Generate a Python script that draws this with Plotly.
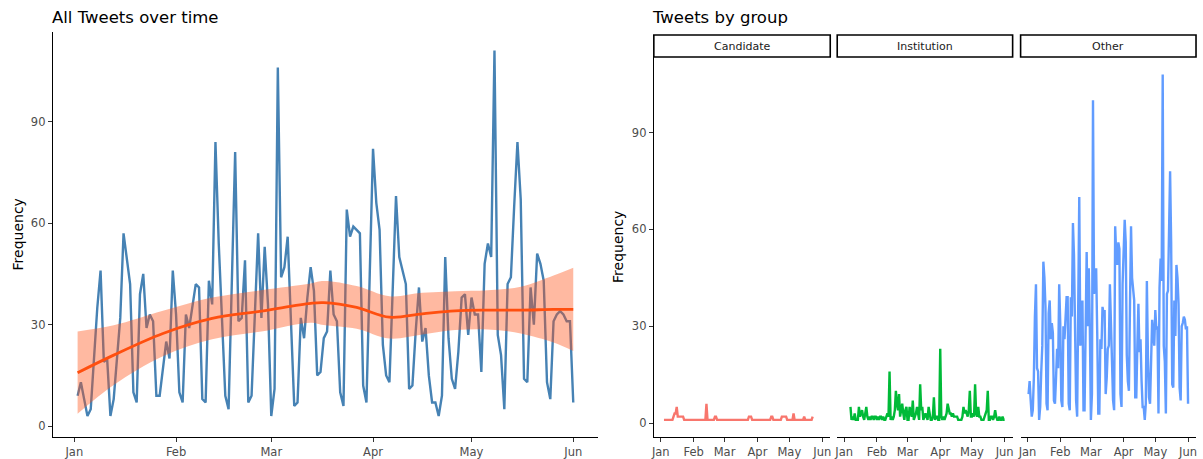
import pandas as pd
import plotly.graph_objects as go

# ---------------- data ----------------
total_start = "2020-01-02"
total_counts = [
    9, 13, 8, 3, 5, 20, 35, 46, 19, 20,
    3, 8, 20, 32, 57, 50, 42, 10, 7, 39,
    45, 29, 33, 31, 9, 9, 17, 25, 20, 46,
    33, 10, 7, 33, 29, 35, 42, 41, 8, 7,
    43, 36, 84, 54, 30, 9, 5, 42, 81, 31,
    32, 49, 7, 9, 33, 57, 32, 53, 36, 3,
    11, 106, 44, 47, 56, 30, 6, 7, 32, 26,
    38, 47, 40, 15, 16, 26, 28, 46, 33, 31,
    10, 6, 64, 56, 59, 58, 57, 12, 7, 45,
    82, 66, 58, 24, 15, 13, 40, 68, 50, 46,
    42, 11, 12, 28, 41, 25, 29, 15, 7, 7,
    3, 9, 50, 26, 14, 11, 22, 38, 39, 27,
    38, 33, 33, 16, 48, 54, 50, 111, 27, 21,
    5, 42, 44, 65, 84, 67, 14, 13, 41, 30,
    51, 48, 43, 13, 8, 31, 33, 34, 33, 31,
    31, 7,
]

# smoothed trend, days after 2020-01-01
smooth_day = [1, 12, 27, 42, 57, 72, 76, 86, 96, 106, 116, 126, 136, 146, 152]
smooth_fit = [15.8, 21.0, 27.4, 31.85, 34.0, 36.3, 36.5, 35.1, 32.2, 33.2, 34.1, 34.3, 34.3, 34.5, 34.5]
smooth_lo = [3.7, 12.2, 20.7, 25.7, 28.0, 30.6, 29.9, 28.8, 25.9, 27.1, 28.4, 28.6, 27.4, 24.7, 22.2]
smooth_hi = [28.0, 29.8, 34.1, 38.0, 40.2, 42.2, 42.9, 41.4, 38.4, 39.4, 39.9, 40.2, 41.2, 44.5, 46.8]

candidate_start = "2020-01-04"
candidate_counts = [
    1, 1, 1, 1, 1, 1, 1, 1, 1, 2,
    3, 3, 5, 2, 2, 2, 2, 2, 2, 1,
    1, 1, 1, 1, 1, 1, 1, 1, 1, 1,
    1, 1, 1, 1, 1, 1, 1, 1, 1, 1,
    6, 1, 1, 1, 1, 1, 1, 1, 2, 2,
    1, 1, 1, 1, 1, 1, 1, 1, 1, 1,
    1, 1, 1, 1, 1, 1, 1, 1, 1, 1,
    1, 1, 1, 1, 1, 1, 1, 1, 1, 1,
    2, 2, 2, 1, 1, 1, 1, 1, 1, 1,
    1, 1, 1, 1, 1, 1, 1, 1, 1, 1,
    1, 2, 2, 1, 1, 1, 1, 1, 1, 1,
    1, 2, 2, 2, 2, 2, 1, 1, 1, 1,
    1, 1, 3, 1, 1, 1, 1, 1, 1, 1,
    1, 1, 2, 1, 1, 1, 1, 1, 1, 1,
    2,
]

institution_start = "2020-01-07"
institution_counts = [
    5, 1, 2, 1, 3, 1, 1, 1, 5, 2,
    3, 4, 2, 1, 3, 5, 2, 1, 2, 1,
    2, 2, 1, 2, 2, 1, 2, 1, 2, 2,
    1, 2, 1, 1, 2, 3, 2, 16, 1, 2,
    1, 2, 4, 10, 6, 4, 9, 2, 4, 6,
    3, 1, 4, 5, 1, 1, 5, 3, 2, 7,
    1, 2, 3, 5, 2, 1, 12, 4, 5, 1,
    2, 3, 2, 1, 5, 2, 1, 1, 2, 8,
    1, 2, 2, 1, 1, 23, 2, 1, 2, 1,
    2, 3, 6, 4, 3, 3, 2, 3, 2, 2,
    2, 2, 1, 1, 1, 1, 2, 5, 3, 4,
    3, 2, 4, 10, 2, 2, 3, 2, 12, 3,
    2, 5, 2, 2, 1, 1, 1, 2, 3, 4,
    10, 1, 1, 2, 2, 1, 2, 4, 2, 1,
    1, 2, 1, 1, 2, 1, 1,
]

other_start = "2020-01-02"
other_counts = [
    9, 13, 7, 2, 4, 14, 33, 43, 17, 16,
    1, 5, 16, 24, 50, 45, 36, 6, 4, 34,
    38, 26, 31, 28, 7, 6, 14, 23, 17, 43,
    31, 7, 5, 30, 26, 33, 39, 39, 6, 4,
    39, 33, 62, 52, 27, 7, 2, 37, 70, 24,
    26, 38, 4, 4, 26, 53, 30, 48, 30, 1,
    9, 100, 40, 44, 48, 28, 3, 3, 26, 23,
    36, 34, 35, 9, 14, 23, 24, 43, 31, 25,
    7, 4, 61, 52, 49, 56, 54, 9, 5, 43,
    58, 63, 56, 21, 13, 10, 36, 61, 45, 42,
    38, 8, 8, 24, 37, 22, 26, 13, 5, 5,
    1, 6, 44, 21, 8, 6, 18, 32, 28, 24,
    35, 29, 30, 3, 42, 51, 44, 108, 24, 19,
    3, 40, 41, 61, 78, 56, 12, 11, 38, 27,
    49, 45, 37, 11, 7, 30, 31, 33, 32, 29,
    30, 6,
]

group_names = ["Candidate", "Institution", "Other"]
group_colors = ["#F8766D", "#00BA38", "#619CFF"]
y_ticks = [0, 30, 60, 90]

# ---------------- helpers ----------------
def dates(start, n):
    return pd.date_range(start, periods=n, freq="D")

base = pd.Timestamp("2020-01-01")
smooth_x = [base + pd.Timedelta(days=d) for d in smooth_day]

W, H = 1203, 459
def px_x(p):
    return p / W
def px_y(p):
    return (H - p) / H

FONT = "DejaVu Sans"
TICK_FONT = dict(family=FONT, size=11.5, color="#4D4D4D")

fig = go.Figure()

# left panel
fig.add_trace(go.Scatter(x=dates(total_start, len(total_counts)), y=total_counts,
                         mode="lines", line=dict(color="#4682B4", width=2.4),
                         xaxis="x", yaxis="y", showlegend=False, hoverinfo="skip"))
fig.add_trace(go.Scatter(x=smooth_x, y=smooth_lo, mode="lines",
                         line=dict(width=0, shape="spline", color="rgba(0,0,0,0)"),
                         xaxis="x", yaxis="y", showlegend=False, hoverinfo="skip"))
fig.add_trace(go.Scatter(x=smooth_x, y=smooth_hi, mode="lines", fill="tonexty",
                         fillcolor="rgba(255,80,20,0.4)",
                         line=dict(width=0, shape="spline", color="rgba(0,0,0,0)"),
                         xaxis="x", yaxis="y", showlegend=False, hoverinfo="skip"))
fig.add_trace(go.Scatter(x=smooth_x, y=smooth_fit, mode="lines",
                         line=dict(width=2.8, shape="spline", color="#FF4F0F"),
                         xaxis="x", yaxis="y", showlegend=False, hoverinfo="skip"))

# facets
group_data = [
    (candidate_start, candidate_counts),
    (institution_start, institution_counts),
    (other_start, other_counts),
]
for i, ((st, vals), col) in enumerate(zip(group_data, group_colors)):
    ax = str(i + 2)
    fig.add_trace(go.Scatter(x=dates(st, len(vals)), y=vals, mode="lines",
                             line=dict(color=col, width=2.4),
                             xaxis="x" + ax, yaxis="y" + ax,
                             showlegend=False, hoverinfo="skip"))

x_range = ["2019-12-25 11:00", "2020-06-08 13:00"]
xcommon = dict(type="date", range=x_range, tickformat="%b", dtick="M1",
               tick0="2020-01-01", ticks="outside", ticklen=4, tickwidth=1,
               tickcolor="#333333", showline=True, linecolor="black", linewidth=1.1,
               showgrid=False, zeroline=False, tickfont=TICK_FONT)
ycommon = dict(tickvals=y_ticks, ticks="outside", ticklen=4, tickwidth=1,
               tickcolor="#333333", showline=True, linecolor="black", linewidth=1.1,
               showgrid=False, zeroline=False, tickfont=TICK_FONT)

panels_x = [(653, 830), (837, 1013), (1021, 1197)]

layout = dict(
    width=W, height=H, margin=dict(l=0, r=0, t=0, b=0),
    paper_bgcolor="white", plot_bgcolor="white",
    font=dict(family=FONT),
    xaxis=dict(xcommon, domain=[px_x(50), px_x(597)], anchor="y"),
    yaxis=dict(ycommon, domain=[px_y(437), px_y(32)], range=[-3.2, 116.5], anchor="x"),
)
for i, (x0, x1) in enumerate(panels_x):
    ax = str(i + 2)
    layout["xaxis" + ax] = dict(xcommon, domain=[px_x(x0), px_x(x1)], anchor="y" + ax)
    yd = dict(ycommon, domain=[px_y(437), px_y(57)], range=[-4.3, 113.4], anchor="x" + ax)
    if i > 0:
        yd.update(showline=False, ticks="", showticklabels=False, matches="y2")
    layout["yaxis" + ax] = yd

fig.update_layout(**layout)

annotations = [
    dict(text="All Tweets over time", x=px_x(47), y=px_y(18), xref="paper", yref="paper",
         xanchor="left", yanchor="middle", showarrow=False,
         font=dict(family=FONT, size=16.5, color="black")),
    dict(text="Tweets by group", x=px_x(649), y=px_y(18), xref="paper", yref="paper",
         xanchor="left", yanchor="middle", showarrow=False,
         font=dict(family=FONT, size=16.5, color="black")),
    dict(text="Frequency", x=px_x(15), y=px_y(234.5), xref="paper", yref="paper",
         textangle=-90, xanchor="center", yanchor="middle", showarrow=False,
         font=dict(family=FONT, size=14, color="black")),
    dict(text="Frequency", x=px_x(617), y=px_y(247), xref="paper", yref="paper",
         textangle=-90, xanchor="center", yanchor="middle", showarrow=False,
         font=dict(family=FONT, size=14, color="black")),
]
shapes = []
for name, (x0, x1) in zip(group_names, panels_x):
    shapes.append(dict(type="rect", xref="paper", yref="paper",
                       x0=px_x(x0), x1=px_x(x1), y0=px_y(57), y1=px_y(35),
                       line=dict(color="black", width=1.6), fillcolor="white"))
    annotations.append(dict(text=name, x=px_x((x0 + x1) / 2), y=px_y(46),
                            xref="paper", yref="paper", xanchor="center", yanchor="middle",
                            showarrow=False, font=dict(family=FONT, size=11, color="#1A1A1A")))
fig.update_layout(annotations=annotations, shapes=shapes)

fig.write_html("out.html")
